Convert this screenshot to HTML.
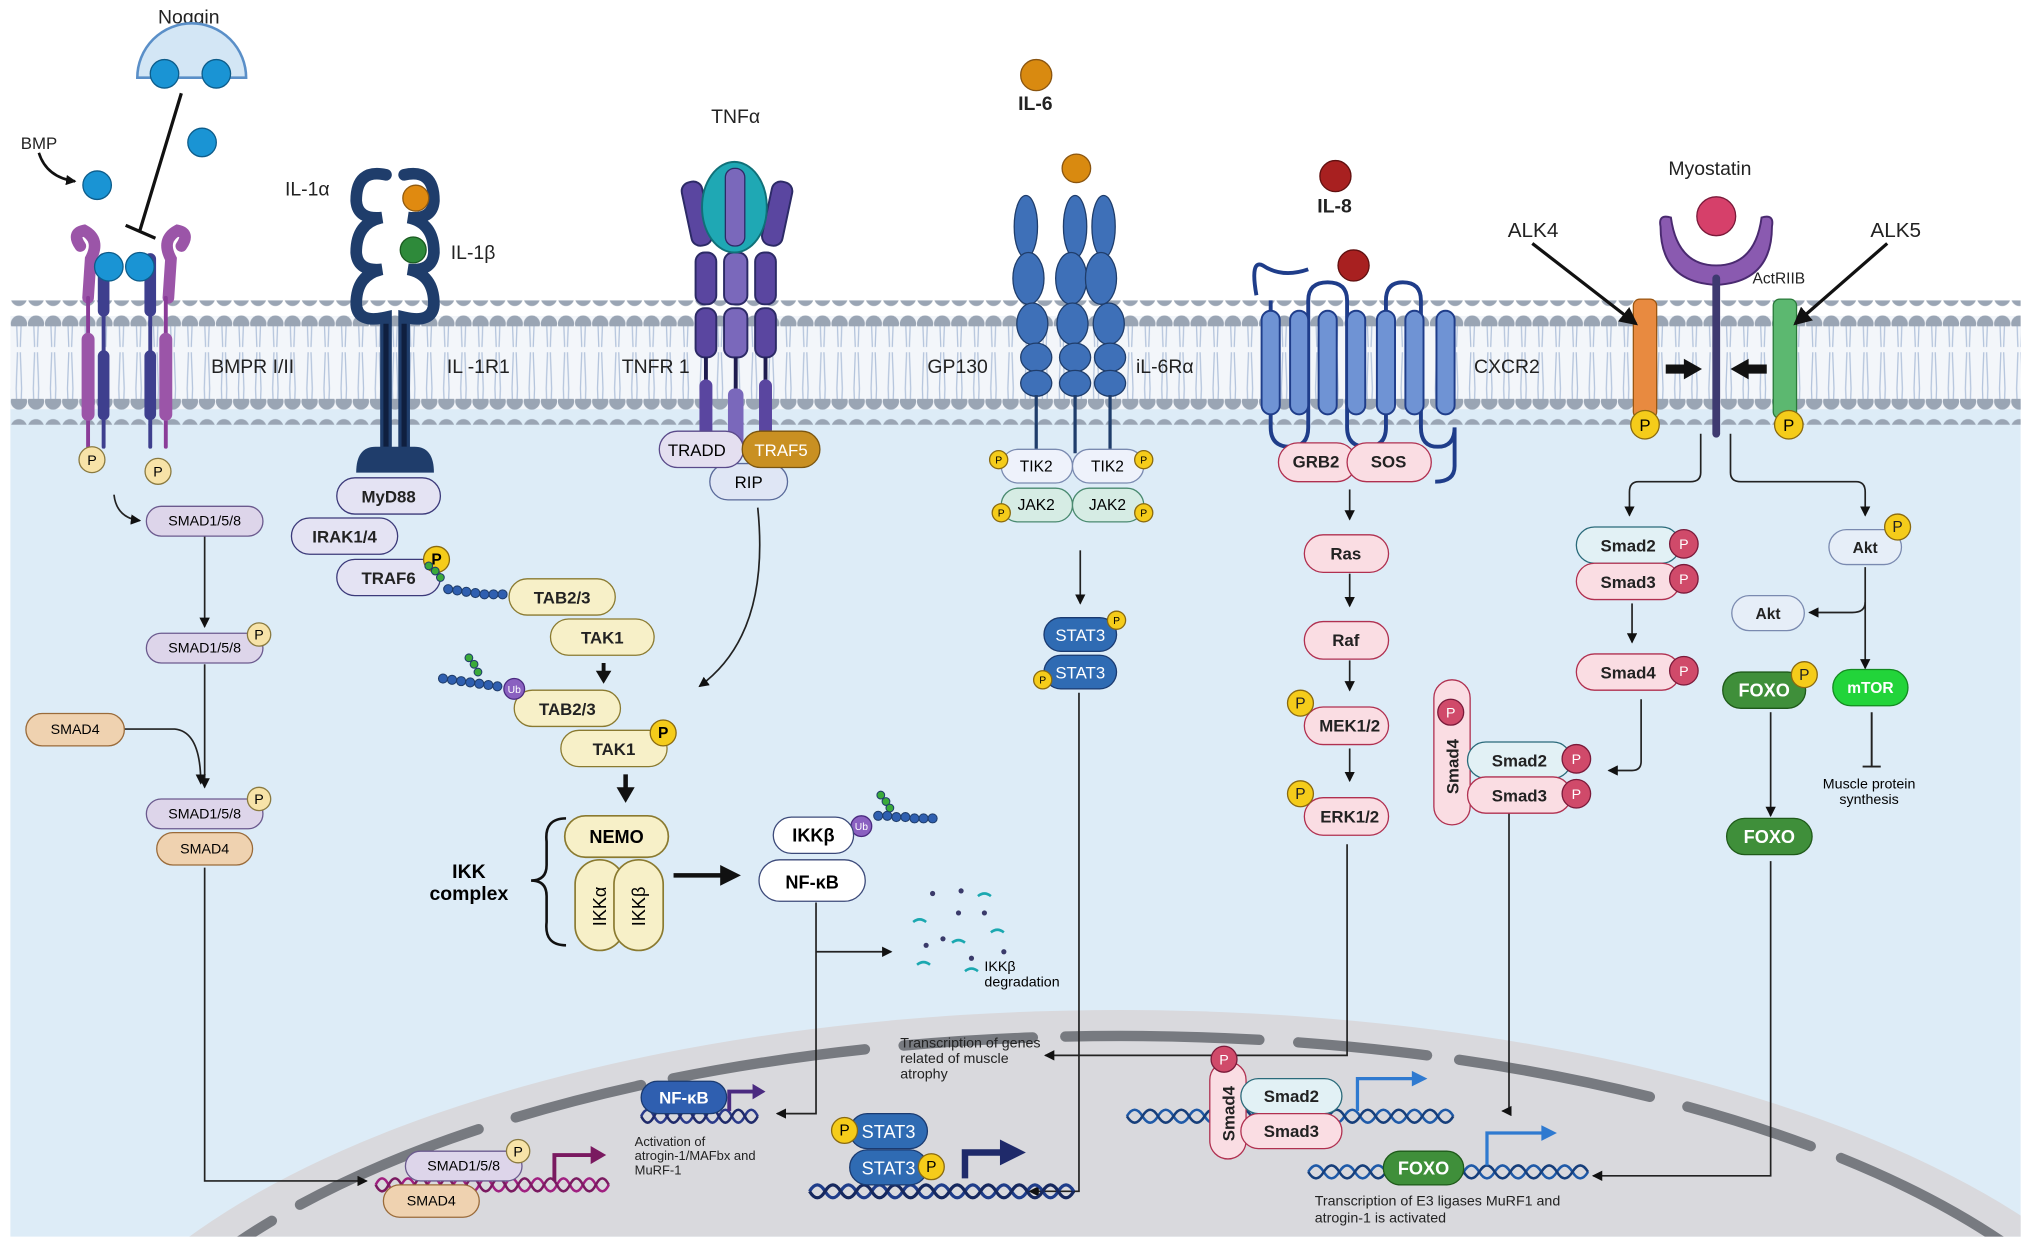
<!DOCTYPE html>
<html><head><meta charset="utf-8"><style>
html,body{margin:0;padding:0;background:#fff;width:2031px;height:1247px;overflow:hidden;}
svg{display:block;}
text{font-family:"Liberation Sans",sans-serif;}
</style></head><body>
<svg width="2031" height="1247" viewBox="0 0 1568 963" preserveAspectRatio="none" xmlns="http://www.w3.org/2000/svg">
<defs>
<pattern id="heads" x="8" y="0" width="13.2" height="20" patternUnits="userSpaceOnUse"><circle cx="6.6" cy="10" r="6.3" fill="#9aa5b4"/></pattern>
<pattern id="tails" x="8" y="0" width="13.2" height="60" patternUnits="userSpaceOnUse"><path d="M4.5 0 L5.5 28 M8.7 0 L7.7 28 M4.5 60 L5.5 32 M8.7 60 L7.7 32" stroke="#b4c4dc" stroke-width="1"/></pattern>
<clipPath id="cell"><rect x="8" y="300" width="1552" height="655"/></clipPath>
<marker id="ar" markerWidth="8" markerHeight="8" refX="7" refY="4" orient="auto" markerUnits="userSpaceOnUse"><path d="M0 0 L8 4 L0 8 z" fill="#111"/></marker>
<marker id="arb" markerWidth="14" markerHeight="14" refX="12" refY="7" orient="auto" markerUnits="userSpaceOnUse"><path d="M0 0 L14 7 L0 14 z" fill="#111"/></marker>
</defs>

<rect x="8" y="300" width="1552" height="655" fill="#ddecf7"/>
<g clip-path="url(#cell)">
<ellipse cx="865" cy="1130" rx="830" ry="350" fill="#d9d9dd"/>
<ellipse cx="865" cy="1135" rx="800" ry="335" fill="none" stroke="#777a80" stroke-width="8" stroke-dasharray="150 30 100 25" stroke-linecap="round"/>
</g>
<rect x="8" y="244" width="1552" height="72" fill="#f3f6fa"/>
<rect x="8" y="244" width="1552" height="72" fill="url(#tails)"/>
<rect x="8" y="232" width="1552" height="20" fill="url(#heads)"/>
<rect x="8" y="308" width="1552" height="20" fill="url(#heads)"/>

<g font-size="15" fill="#222">
<text x="163" y="288">BMPR I/II</text>
<text x="345" y="288">IL -1R1</text>
<text x="480" y="288">TNFR 1</text>
<text x="716" y="288">GP130</text>
<text x="877" y="288">iL-6Rα</text>
<text x="1138" y="288">CXCR2</text>
<text x="122" y="18">Noggin</text>
<text x="16" y="115" font-size="13">BMP</text>
<text x="220" y="151">IL-1α</text>
<text x="348" y="200">IL-1β</text>
<text x="549" y="95">TNFα</text>
<text x="1288" y="135">Myostatin</text>
<text x="1164" y="183" font-size="16">ALK4</text>
<text x="1444" y="183" font-size="16">ALK5</text>
<text x="1353" y="219" font-size="12">ActRIIB</text>
<text x="786" y="85" font-weight="bold">IL-6</text>
<text x="1017" y="164" font-weight="bold">IL-8</text>
</g>

<path d="M106 60 A42 42 0 0 1 190 60 Z" fill="#d3e6f5" stroke="#5a8fc8" stroke-width="2"/>
<circle cx="127" cy="57" r="11" fill="#1a94d4" stroke="#0d5c8a"/>
<circle cx="167" cy="57" r="11" fill="#1a94d4" stroke="#0d5c8a"/>
<circle cx="156" cy="110" r="11" fill="#1a94d4" stroke="#0d5c8a"/>
<circle cx="75" cy="143" r="11" fill="#1a94d4" stroke="#0d5c8a"/>
<path d="M140 72 L108 178 M97 174 L120 184" stroke="#111" stroke-width="2.5"/>
<path d="M30 118 Q36 137 58 140" fill="none" stroke="#111" stroke-width="2" marker-end="url(#ar)"/>
<g fill="none" stroke-linecap="round">
<path d="M62 190 Q55 180 65 178 Q78 185 70 200 L68 230" stroke="#9b55a8" stroke-width="9"/>
<path d="M140 190 Q147 180 137 178 Q124 185 132 200 L130 230" stroke="#9b55a8" stroke-width="9"/>
<path d="M68 230 L68 345" stroke="#8a3c98" stroke-width="3"/>
<path d="M68 262 L68 320" stroke="#9b55a8" stroke-width="10"/>
<path d="M128 230 L128 345" stroke="#8a3c98" stroke-width="3"/>
<path d="M128 262 L128 320" stroke="#9b55a8" stroke-width="10"/>
<path d="M80 205 L80 345" stroke="#3e3f8e" stroke-width="3"/>
<path d="M80 200 L80 240 M80 275 L80 320" stroke="#3e3f8e" stroke-width="9"/>
<path d="M116 205 L116 345" stroke="#3e3f8e" stroke-width="3"/>
<path d="M116 200 L116 240 M116 275 L116 320" stroke="#3e3f8e" stroke-width="9"/>
</g>
<circle cx="84" cy="206" r="11" fill="#1a94d4" stroke="#0d5c8a"/>
<circle cx="108" cy="206" r="11" fill="#1a94d4" stroke="#0d5c8a"/>
<g font-size="11" text-anchor="middle">
<circle cx="71" cy="355" r="10" fill="#f7e3a8" stroke="#8a7a40"/><text x="71" y="359">P</text>
<circle cx="122" cy="364" r="10" fill="#f7e3a8" stroke="#8a7a40"/><text x="122" y="368">P</text>
</g>

<g fill="none" stroke="#1f3d6b" stroke-width="9" stroke-linecap="round">
<path d="M298 135 Q275 130 275 155 Q276 170 295 168 Q275 172 275 195 Q276 210 295 208 Q275 212 275 235 Q276 250 298 245 L298 345"/>
<path d="M312 135 Q335 130 335 155 Q334 170 315 168 Q335 172 335 195 Q334 210 315 208 Q335 212 335 235 Q334 250 312 245 L312 345"/>
</g>
<path d="M298 250 L298 345 M312 250 L312 345" stroke="#0f1f3f" stroke-width="4"/>
<path d="M275 365 Q275 345 290 345 L320 345 Q335 345 335 365 Z" fill="#1f3d6b"/>
<circle cx="321" cy="153" r="10" fill="#e08a10" stroke="#905a10"/>
<circle cx="319" cy="193" r="10" fill="#2e8a3a" stroke="#1a5a20"/>

<g stroke="#2c2a66" stroke-width="1.5">
<rect x="530" y="140" width="16" height="50" rx="7" fill="#5a46a0" transform="rotate(-12 538 165)"/>
<rect x="592" y="140" width="16" height="50" rx="7" fill="#5a46a0" transform="rotate(12 600 165)"/>
<rect x="537" y="195" width="16" height="40" rx="7" fill="#5a46a0"/>
<rect x="559" y="195" width="18" height="40" rx="7" fill="#7a68bb"/>
<rect x="583" y="195" width="16" height="40" rx="7" fill="#5a46a0"/>
<rect x="537" y="238" width="16" height="38" rx="7" fill="#5a46a0"/>
<rect x="559" y="238" width="18" height="38" rx="7" fill="#7a68bb"/>
<rect x="583" y="238" width="16" height="38" rx="7" fill="#5a46a0"/>
</g>
<ellipse cx="567" cy="160" rx="25" ry="35" fill="#1fa8b4" stroke="#107078" stroke-width="1.5"/>
<rect x="560" y="130" width="15" height="60" rx="7" fill="#7a68bb" stroke="#2c2a66"/>
<path d="M545 276 L545 345 M568 276 L568 345 M591 276 L591 345" stroke="#1e1c4f" stroke-width="3"/>
<rect x="540" y="293" width="10" height="50" rx="5" fill="#5a46a0"/><rect x="562" y="300" width="12" height="55" rx="5" fill="#7a68bb"/><rect x="586" y="293" width="10" height="50" rx="5" fill="#5a46a0"/>
<g font-size="13" text-anchor="middle">
<rect x="548" y="358" width="60" height="28" rx="14" fill="#dfe6f5" stroke="#5a6a9a"/><text x="578" y="377">RIP</text>
<rect x="509" y="333" width="65" height="28" rx="14" fill="#e4dff0" stroke="#5a4a8a"/><text x="538" y="352">TRADD</text>
<rect x="573" y="333" width="60" height="28" rx="14" fill="#c99022" stroke="#7a5510"/><text x="603" y="352" fill="#fff">TRAF5</text>
</g>

<circle cx="800" cy="58" r="12" fill="#d98a10" stroke="#8a5510"/>
<g fill="#3e70b8" stroke="#1f3d6b" stroke-width="1">
<ellipse cx="792" cy="175" rx="9" ry="24"/><ellipse cx="794" cy="215" rx="12" ry="20"/><ellipse cx="797" cy="250" rx="12" ry="16"/>
<ellipse cx="800" cy="276" rx="12" ry="11"/><ellipse cx="800" cy="296" rx="12" ry="10"/>
<ellipse cx="830" cy="175" rx="9" ry="24"/><ellipse cx="827" cy="215" rx="12" ry="20"/><ellipse cx="828" cy="250" rx="12" ry="16"/>
<ellipse cx="830" cy="276" rx="12" ry="11"/><ellipse cx="830" cy="296" rx="12" ry="10"/>
<ellipse cx="852" cy="175" rx="9" ry="24"/><ellipse cx="850" cy="215" rx="12" ry="20"/><ellipse cx="856" cy="250" rx="12" ry="16"/>
<ellipse cx="857" cy="276" rx="12" ry="11"/><ellipse cx="857" cy="296" rx="12" ry="10"/>
</g>
<circle cx="831" cy="130" r="11" fill="#d98a10" stroke="#8a5510"/>
<path d="M800 305 L800 350 M830 305 L830 350 M857 305 L857 350" stroke="#1f3d6b" stroke-width="2.5"/>
<g font-size="12" text-anchor="middle">
<rect x="773" y="347" width="55" height="26" rx="13" fill="#eef2fb" stroke="#7a8ab0"/><text x="800" y="364">TIK2</text>
<rect x="828" y="347" width="55" height="26" rx="13" fill="#eef2fb" stroke="#7a8ab0"/><text x="855" y="364">TIK2</text>
<rect x="773" y="377" width="55" height="26" rx="13" fill="#d6ece4" stroke="#4a8a70"/><text x="800" y="394">JAK2</text>
<rect x="828" y="377" width="55" height="26" rx="13" fill="#d6ece4" stroke="#4a8a70"/><text x="855" y="394">JAK2</text>
<g font-size="8"><circle cx="771" cy="355" r="7" fill="#f5cc1a" stroke="#8a6a10"/><text x="771" y="358">P</text>
<circle cx="883" cy="355" r="7" fill="#f5cc1a" stroke="#8a6a10"/><text x="883" y="358">P</text>
<circle cx="773" cy="396" r="7" fill="#f5cc1a" stroke="#8a6a10"/><text x="773" y="399">P</text>
<circle cx="883" cy="396" r="7" fill="#f5cc1a" stroke="#8a6a10"/><text x="883" y="399">P</text></g>
</g>

<circle cx="1031" cy="136" r="12" fill="#a82020" stroke="#601010"/>
<circle cx="1045" cy="205" r="12" fill="#a82020" stroke="#601010"/>
<path d="M970 228 Q965 200 975 205 Q990 215 1010 208 M981 232 L981 330 Q981 345 996 345 Q1010 345 1010 330 L1010 232 Q1010 218 1025 218 Q1040 218 1040 232 L1040 330 Q1040 345 1055 345 Q1070 345 1070 330 L1070 232 Q1070 218 1083 218 Q1097 218 1097 232 L1097 330 Q1097 345 1110 345 Q1123 345 1123 330 L1123 360 Q1123 372 1108 372" fill="none" stroke="#1f3d8a" stroke-width="3"/>
<g fill="#6f93d4" stroke="#1f3d8a" stroke-width="1.5">
<rect x="974" y="240" width="14" height="80" rx="7"/><rect x="996" y="240" width="14" height="80" rx="7"/><rect x="1018" y="240" width="14" height="80" rx="7"/><rect x="1040" y="240" width="14" height="80" rx="7"/><rect x="1063" y="240" width="14" height="80" rx="7"/><rect x="1085" y="240" width="14" height="80" rx="7"/><rect x="1109" y="240" width="14" height="80" rx="7"/>
</g>
<g font-size="13" text-anchor="middle" font-weight="bold" fill="#222">
<rect x="987" y="342" width="60" height="30" rx="15" fill="#fadde3" stroke="#b03050"/><text x="1016" y="361">GRB2</text>
<rect x="1040" y="342" width="65" height="30" rx="15" fill="#fadde3" stroke="#b03050"/><text x="1072" y="361">SOS</text>
</g>

<path d="M1282 175 Q1280 165 1290 168 Q1295 205 1325 205 Q1355 205 1360 168 Q1370 165 1368 175 Q1368 218 1325 220 Q1282 218 1282 175 Z" fill="#8a5ab0" stroke="#4a2a70" stroke-width="1.5"/>
<circle cx="1325" cy="167" r="15" fill="#d6406a" stroke="#7a1a3a"/>
<path d="M1325 215 L1325 335" stroke="#3e3a70" stroke-width="6" stroke-linecap="round"/>
<rect x="1261" y="231" width="18" height="92" rx="5" fill="#e88a40" stroke="#9a5510"/>
<rect x="1369" y="231" width="18" height="92" rx="5" fill="#5cb870" stroke="#2a7a3a"/>
<path d="M1183 188 L1263 250" stroke="#111" stroke-width="2.5" marker-end="url(#arb)"/>
<path d="M1457 188 L1386 250" stroke="#111" stroke-width="2.5" marker-end="url(#arb)"/>
<path d="M1286 285 L1302 285" stroke="#111" stroke-width="7"/><path d="M1300 277 L1314 285 L1300 293 Z" fill="#111"/>
<path d="M1364 285 L1348 285" stroke="#111" stroke-width="7"/><path d="M1350 277 L1336 285 L1350 293 Z" fill="#111"/>
<g font-size="13" text-anchor="middle">
<circle cx="1270" cy="328" r="11" fill="#f5cc1a" stroke="#8a6a10"/><text x="1270" y="333">P</text>
<circle cx="1381" cy="328" r="11" fill="#f5cc1a" stroke="#8a6a10"/><text x="1381" y="333">P</text>
</g>

<g fill="none" stroke="#222" stroke-width="1.3">
<path d="M88 382 Q90 400 108 402" marker-end="url(#ar)"/>
<path d="M158 414 L158 484" marker-end="url(#ar)"/>
<path d="M158 513 L158 608" marker-end="url(#ar)"/>
<path d="M96 563 L135 563 Q155 565 155 605" marker-end="url(#ar)"/>
<path d="M158 670 L158 912 L283 912" marker-end="url(#ar)"/>
</g>
<g font-size="11" text-anchor="middle">
<rect x="113" y="391" width="90" height="23" rx="11.5" fill="#ddd5ea" stroke="#6b5a8e"/><text x="158" y="406">SMAD1/5/8</text>
<rect x="113" y="489" width="90" height="23" rx="11.5" fill="#ddd5ea" stroke="#6b5a8e"/><text x="158" y="504">SMAD1/5/8</text>
<circle cx="200" cy="490" r="9" fill="#f7e3a8" stroke="#8a7a40"/><text x="200" y="494">P</text>
<rect x="20" y="551" width="76" height="25" rx="12.5" fill="#efd2b0" stroke="#9a6b3a"/><text x="58" y="567">SMAD4</text>
<rect x="113" y="617" width="90" height="23" rx="11.5" fill="#ddd5ea" stroke="#6b5a8e"/><text x="158" y="632">SMAD1/5/8</text>
<circle cx="200" cy="617" r="9" fill="#f7e3a8" stroke="#8a7a40"/><text x="200" y="621">P</text>
<rect x="121" y="643" width="74" height="25" rx="12.5" fill="#efd2b0" stroke="#9a6b3a"/><text x="158" y="659">SMAD4</text>
</g>
<path d="M290 915 q5 -10 10 0 t10 0 t10 0 t10 0 t10 0 t10 0 t10 0 t10 0 t10 0 t10 0 t10 0 t10 0 t10 0 t10 0 t10 0 t10 0 t10 0 t10 0" fill="none" stroke="#a02080" stroke-width="2"/>
<path d="M290 915 q5 10 10 0 t10 0 t10 0 t10 0 t10 0 t10 0 t10 0 t10 0 t10 0 t10 0 t10 0 t10 0 t10 0 t10 0 t10 0 t10 0 t10 0 t10 0" fill="none" stroke="#7a1a60" stroke-width="2"/>
<path d="M428 912 L428 892 L458 892" fill="none" stroke="#7a1a60" stroke-width="3"/><path d="M456 885 L468 892 L456 899 Z" fill="#7a1a60"/>
<g font-size="11" text-anchor="middle">
<rect x="313" y="889" width="90" height="23" rx="11.5" fill="#ddd5ea" stroke="#6b5a8e"/><text x="358" y="904">SMAD1/5/8</text>
<circle cx="400" cy="889" r="9" fill="#f7e3a8" stroke="#8a7a40"/><text x="400" y="893">P</text>
<rect x="296" y="915" width="74" height="25" rx="12.5" fill="#efd2b0" stroke="#9a6b3a"/><text x="333" y="931">SMAD4</text>
</g>

<g font-size="13" text-anchor="middle" font-weight="bold" fill="#222">
<rect x="260" y="369" width="80" height="28" rx="14" fill="#e4e3f3" stroke="#3c3a7a"/><text x="300" y="388">MyD88</text>
<rect x="225" y="400" width="82" height="28" rx="14" fill="#e4e3f3" stroke="#3c3a7a"/><text x="266" y="419">IRAK1/4</text>
<rect x="260" y="432" width="80" height="28" rx="14" fill="#e4e3f3" stroke="#3c3a7a"/><text x="300" y="451">TRAF6</text>
<rect x="393" y="447" width="82" height="28" rx="14" fill="#f7f0c8" stroke="#8a7a30"/><text x="434" y="466">TAB2/3</text>
<rect x="425" y="478" width="80" height="28" rx="14" fill="#f7f0c8" stroke="#8a7a30"/><text x="465" y="497">TAK1</text>
<rect x="397" y="533" width="82" height="28" rx="14" fill="#f7f0c8" stroke="#8a7a30"/><text x="438" y="552">TAB2/3</text>
<rect x="433" y="564" width="82" height="28" rx="14" fill="#f7f0c8" stroke="#8a7a30"/><text x="474" y="583">TAK1</text>
</g>
<g font-size="12" text-anchor="middle" font-weight="bold">
<circle cx="337" cy="432" r="10" fill="#f5cc1a" stroke="#8a6a10"/><text x="337" y="436">P</text>
<circle cx="512" cy="566" r="10" fill="#f5cc1a" stroke="#8a6a10"/><text x="512" y="570">P</text>
</g>
<g stroke="#1f3d6b" stroke-width="0.8">
<circle cx="346" cy="455" r="3.5" fill="#2f5fb0"/><circle cx="353" cy="456" r="3.5" fill="#2f5fb0"/><circle cx="360" cy="457" r="3.5" fill="#2f5fb0"/><circle cx="367" cy="458" r="3.5" fill="#2f5fb0"/><circle cx="374" cy="459" r="3.5" fill="#2f5fb0"/><circle cx="381" cy="459" r="3.5" fill="#2f5fb0"/><circle cx="388" cy="459" r="3.5" fill="#2f5fb0"/>
<circle cx="331" cy="437" r="3" fill="#3aaa3a"/><circle cx="336" cy="441" r="3" fill="#3aaa3a"/><circle cx="340" cy="446" r="3" fill="#3aaa3a"/>
<circle cx="342" cy="524" r="3.5" fill="#2f5fb0"/><circle cx="349" cy="525" r="3.5" fill="#2f5fb0"/><circle cx="356" cy="526" r="3.5" fill="#2f5fb0"/><circle cx="363" cy="527" r="3.5" fill="#2f5fb0"/><circle cx="370" cy="528" r="3.5" fill="#2f5fb0"/><circle cx="377" cy="529" r="3.5" fill="#2f5fb0"/><circle cx="384" cy="530" r="3.5" fill="#2f5fb0"/>
<circle cx="362" cy="508" r="3" fill="#3aaa3a"/><circle cx="366" cy="513" r="3" fill="#3aaa3a"/><circle cx="369" cy="519" r="3" fill="#3aaa3a"/>
<circle cx="678" cy="630" r="3.5" fill="#2f5fb0"/><circle cx="685" cy="630" r="3.5" fill="#2f5fb0"/><circle cx="692" cy="631" r="3.5" fill="#2f5fb0"/><circle cx="699" cy="631" r="3.5" fill="#2f5fb0"/><circle cx="706" cy="632" r="3.5" fill="#2f5fb0"/><circle cx="713" cy="632" r="3.5" fill="#2f5fb0"/><circle cx="720" cy="632" r="3.5" fill="#2f5fb0"/>
<circle cx="680" cy="614" r="3" fill="#3aaa3a"/><circle cx="684" cy="619" r="3" fill="#3aaa3a"/><circle cx="687" cy="624" r="3" fill="#3aaa3a"/>
</g>
<circle cx="397" cy="532" r="8" fill="#8a60c0" stroke="#4a2a80"/><text x="397" y="535" font-size="8" fill="#fff" text-anchor="middle">Ub</text>
<circle cx="665" cy="638" r="8" fill="#8a60c0" stroke="#4a2a80"/><text x="665" y="641" font-size="8" fill="#fff" text-anchor="middle">Ub</text>
<path d="M466 512 L466 520" stroke="#111" stroke-width="3"/><path d="M460 518 L466 528 L472 518 Z" fill="#111"/>
<path d="M483 598 L483 610" stroke="#111" stroke-width="3.5"/><path d="M476 608 L483 620 L490 608 Z" fill="#111"/>
<path d="M585 392 Q595 490 540 530" fill="none" stroke="#222" stroke-width="1.3" marker-end="url(#ar)"/>
<path d="M437 632 Q420 632 422 650 L422 668 Q422 680 410 680 Q422 680 422 692 L422 712 Q420 730 437 730" fill="none" stroke="#111" stroke-width="2"/>
<text x="362" y="678" font-size="15" font-weight="bold" text-anchor="middle">IKK</text>
<text x="362" y="695" font-size="15" font-weight="bold" text-anchor="middle">complex</text>
<g fill="#f7f0c8" stroke="#8a7a30" stroke-width="1.3">
<rect x="444" y="664" width="38" height="70" rx="19"/><rect x="474" y="664" width="38" height="70" rx="19"/>
<rect x="436" y="630" width="80" height="32" rx="16"/>
</g>
<text x="476" y="651" font-size="14" font-weight="bold" text-anchor="middle">NEMO</text>
<text transform="translate(468 700) rotate(-90)" font-size="14" text-anchor="middle">IKKα</text>
<text transform="translate(498 700) rotate(-90)" font-size="14" text-anchor="middle">IKKβ</text>
<path d="M520 676 L560 676" stroke="#111" stroke-width="3.5"/><path d="M556 668 L572 676 L556 684 Z" fill="#111"/>
<g font-size="14" text-anchor="middle" font-weight="bold">
<rect x="597" y="631" width="62" height="28" rx="14" fill="#fff" stroke="#3c4a7a"/><text x="628" y="650">IKKβ</text>
<rect x="586" y="664" width="82" height="32" rx="16" fill="#fff" stroke="#3c4a7a"/><text x="627" y="686">NF-κB</text>
</g>
<path d="M630 697 L630 860 L600 860" fill="none" stroke="#222" stroke-width="1.3" marker-end="url(#ar)"/>
<path d="M630 735 L688 735" fill="none" stroke="#222" stroke-width="1.3" marker-end="url(#ar)"/>
<g fill="none" stroke="#1aa8b0" stroke-width="2">
<path d="M705 712 q5 -4 10 0"/><path d="M755 692 q5 -4 10 0"/><path d="M765 720 q5 -4 10 0"/><path d="M708 745 q5 -4 10 0"/><path d="M735 728 q5 -4 10 0"/><path d="M745 750 q5 -4 10 0"/>
</g>
<g fill="#3a3a6a"><circle cx="720" cy="690" r="2"/><circle cx="740" cy="705" r="2"/><circle cx="728" cy="725" r="2"/><circle cx="760" cy="705" r="2"/><circle cx="750" cy="740" r="2"/><circle cx="775" cy="735" r="2"/><circle cx="742" cy="688" r="2"/><circle cx="715" cy="730" r="2"/></g>
<text x="760" y="750" font-size="11">IKKβ</text><text x="760" y="762" font-size="11">degradation</text>
<path d="M495 862 q5 -10 10 0 t10 0 t10 0 t10 0 t10 0 t10 0 t10 0 t10 0 t10 0" fill="none" stroke="#2a3a8a" stroke-width="2"/>
<path d="M495 862 q5 10 10 0 t10 0 t10 0 t10 0 t10 0 t10 0 t10 0 t10 0 t10 0" fill="none" stroke="#1f2a6a" stroke-width="2"/>
<rect x="495" y="835" width="66" height="25" rx="12.5" fill="#2f5fb0" stroke="#1a3a70"/><text x="528" y="852" font-size="13" fill="#fff" font-weight="bold" text-anchor="middle">NF-κB</text>
<path d="M563 858 L563 843 L583 843" fill="none" stroke="#4a2a80" stroke-width="3"/><path d="M581 837 L591 843 L581 849 Z" fill="#4a2a80"/>
<g font-size="10" fill="#222"><text x="490" y="885">Activation of</text><text x="490" y="896">atrogin-1/MAFbx and</text><text x="490" y="907">MuRF-1</text></g>

<path d="M834 425 L834 466" fill="none" stroke="#222" stroke-width="1.3" marker-end="url(#ar)"/>
<path d="M833 535 L833 920 L795 920" fill="none" stroke="#222" stroke-width="1.3" marker-end="url(#ar)"/>
<g font-size="13" text-anchor="middle" fill="#fff">
<rect x="806" y="477" width="56" height="26" rx="13" fill="#2f6bb3" stroke="#1a3a70"/><text x="834" y="495">STAT3</text>
<rect x="806" y="506" width="56" height="26" rx="13" fill="#2f6bb3" stroke="#1a3a70"/><text x="834" y="524">STAT3</text>
</g>
<g font-size="8" text-anchor="middle"><circle cx="862" cy="479" r="7" fill="#f5cc1a" stroke="#8a6a10"/><text x="862" y="482">P</text>
<circle cx="805" cy="525" r="7" fill="#f5cc1a" stroke="#8a6a10"/><text x="805" y="528">P</text></g>
<path d="M625 920 q6 -10 12 0 t12 0 t12 0 t12 0 t12 0 t12 0 t12 0 t12 0 t12 0 t12 0 t12 0 t12 0 t12 0 t12 0 t12 0 t12 0 t12 0" fill="none" stroke="#1f3d8a" stroke-width="2.5"/>
<path d="M625 920 q6 10 12 0 t12 0 t12 0 t12 0 t12 0 t12 0 t12 0 t12 0 t12 0 t12 0 t12 0 t12 0 t12 0 t12 0 t12 0 t12 0 t12 0" fill="none" stroke="#16285e" stroke-width="2.5"/>
<path d="M745 910 L745 890 L775 890" fill="none" stroke="#1f2a6a" stroke-width="5"/><path d="M772 880 L792 890 L772 900 Z" fill="#1f2a6a"/>
<g font-size="14" text-anchor="middle" fill="#fff">
<rect x="656" y="860" width="60" height="27" rx="13.5" fill="#2f6bb3" stroke="#1a3a70"/><text x="686" y="879">STAT3</text>
<rect x="656" y="888" width="60" height="27" rx="13.5" fill="#2f6bb3" stroke="#1a3a70"/><text x="686" y="907">STAT3</text>
</g>
<g font-size="12" text-anchor="middle"><circle cx="652" cy="873" r="10" fill="#f5cc1a" stroke="#8a6a10"/><text x="652" y="877">P</text>
<circle cx="719" cy="901" r="10" fill="#f5cc1a" stroke="#8a6a10"/><text x="719" y="905">P</text></g>

<g fill="none" stroke="#222" stroke-width="1.3">
<path d="M1042 378 L1042 401" marker-end="url(#ar)"/>
<path d="M1042 443 L1042 468" marker-end="url(#ar)"/>
<path d="M1042 510 L1042 533" marker-end="url(#ar)"/>
<path d="M1042 578 L1042 603" marker-end="url(#ar)"/>
<path d="M1040 652 L1040 815 L807 815" marker-end="url(#ar)"/>
</g>
<g font-size="13" text-anchor="middle" font-weight="bold" fill="#222">
<rect x="1007" y="413" width="65" height="29" rx="14.5" fill="#fadde3" stroke="#b03050"/><text x="1039" y="432">Ras</text>
<rect x="1007" y="480" width="65" height="29" rx="14.5" fill="#fadde3" stroke="#b03050"/><text x="1039" y="499">Raf</text>
<rect x="1007" y="546" width="65" height="29" rx="14.5" fill="#fadde3" stroke="#b03050"/><text x="1042" y="565">MEK1/2</text>
<rect x="1007" y="616" width="65" height="29" rx="14.5" fill="#fadde3" stroke="#b03050"/><text x="1042" y="635">ERK1/2</text>
<circle cx="1004" cy="543" r="10" fill="#f5cc1a" stroke="#8a6a10"/><text x="1004" y="547" font-size="12" font-weight="normal">P</text>
<circle cx="1004" cy="613" r="10" fill="#f5cc1a" stroke="#8a6a10"/><text x="1004" y="617" font-size="12" font-weight="normal">P</text>
</g>
<g font-size="11" fill="#222"><text x="695" y="809">Transcription of genes</text><text x="695" y="821">related of muscle</text><text x="695" y="833">atrophy</text></g>

<g fill="none" stroke="#222" stroke-width="1.3">
<path d="M1313 335 L1313 365 Q1313 372 1305 372 L1265 372 Q1258 372 1258 380 L1258 398" marker-end="url(#ar)"/>
<path d="M1336 335 L1336 365 Q1336 372 1344 372 L1433 372 Q1440 372 1440 380 L1440 398" marker-end="url(#ar)"/>
<path d="M1260 466 L1260 496" marker-end="url(#ar)"/>
<path d="M1267 540 L1267 588 Q1267 595 1260 595 L1242 595" marker-end="url(#ar)"/>
<path d="M1165 628 L1165 858 L1160 858" marker-end="url(#ar)"/>
<path d="M1440 438 L1440 516" marker-end="url(#ar)"/>
<path d="M1440 465 Q1440 473 1430 473 L1397 473" marker-end="url(#ar)"/>
<path d="M1367 550 L1367 630" marker-end="url(#ar)"/>
<path d="M1367 665 L1367 908 L1230 908" marker-end="url(#ar)"/>
<path d="M1445 550 L1445 592 M1438 592 L1452 592" stroke-width="1.5"/>
</g>
<g font-size="13" text-anchor="middle" font-weight="bold" fill="#222">
<rect x="1217" y="407" width="80" height="28" rx="14" fill="#e2f1f5" stroke="#2a6a7a"/><text x="1257" y="426">Smad2</text>
<rect x="1217" y="435" width="80" height="28" rx="14" fill="#fadde3" stroke="#b03050"/><text x="1257" y="454">Smad3</text>
<rect x="1217" y="505" width="80" height="28" rx="14" fill="#fadde3" stroke="#b03050"/><text x="1257" y="524">Smad4</text>
<rect x="1107" y="525" width="28" height="112" rx="14" fill="#fadde3" stroke="#b03050"/>
<text transform="translate(1126 592) rotate(-90)">Smad4</text>
<rect x="1133" y="573" width="80" height="28" rx="14" fill="#e2f1f5" stroke="#2a6a7a"/><text x="1173" y="592">Smad2</text>
<rect x="1133" y="600" width="80" height="28" rx="14" fill="#fadde3" stroke="#b03050"/><text x="1173" y="619">Smad3</text>
</g>
<g font-size="11" text-anchor="middle" fill="#fff">
<circle cx="1300" cy="420" r="11" fill="#d04a6a" stroke="#7a1a3a"/><text x="1300" y="424">P</text>
<circle cx="1300" cy="447" r="11" fill="#d04a6a" stroke="#7a1a3a"/><text x="1300" y="451">P</text>
<circle cx="1300" cy="518" r="11" fill="#d04a6a" stroke="#7a1a3a"/><text x="1300" y="522">P</text>
<circle cx="1120" cy="550" r="10" fill="#d04a6a" stroke="#7a1a3a"/><text x="1120" y="554">P</text>
<circle cx="1217" cy="586" r="11" fill="#d04a6a" stroke="#7a1a3a"/><text x="1217" y="590">P</text>
<circle cx="1217" cy="613" r="11" fill="#d04a6a" stroke="#7a1a3a"/><text x="1217" y="617">P</text>
</g>
<g font-size="12" text-anchor="middle" font-weight="bold" fill="#222">
<rect x="1412" y="409" width="56" height="27" rx="13.5" fill="#e6eef8" stroke="#7a8ab0"/><text x="1440" y="427">Akt</text>
<rect x="1337" y="460" width="56" height="27" rx="13.5" fill="#e6eef8" stroke="#7a8ab0"/><text x="1365" y="478">Akt</text>
<circle cx="1465" cy="407" r="10" fill="#f5cc1a" stroke="#8a6a10"/><text x="1465" y="411" font-weight="normal">P</text>
<rect x="1415" y="517" width="58" height="28" rx="14" fill="#22d43a" stroke="#138a20"/><text x="1444" y="535" fill="#fff">mTOR</text>
<rect x="1330" y="519" width="64" height="28" rx="14" fill="#3f8f3a" stroke="#1f5a1a"/><text x="1362" y="538" fill="#fff" font-size="14">FOXO</text>
<circle cx="1393" cy="521" r="10" fill="#f5cc1a" stroke="#8a6a10"/><text x="1393" y="525" font-weight="normal">P</text>
<rect x="1333" y="632" width="66" height="28" rx="14" fill="#3f8f3a" stroke="#1f5a1a"/><text x="1366" y="651" fill="#fff" font-size="14">FOXO</text>
</g>
<g font-size="11" text-anchor="middle"><text x="1443" y="609">Muscle protein</text><text x="1443" y="621">synthesis</text></g>
<path d="M870 862 q6 -10 12 0 t12 0 t12 0 t12 0 t12 0 t12 0 t12 0 t12 0 t12 0 t12 0 t12 0 t12 0 t12 0 t12 0 t12 0 t12 0 t12 0 t12 0 t12 0 t12 0 t12 0" fill="none" stroke="#1f5aa8" stroke-width="2"/>
<path d="M870 862 q6 10 12 0 t12 0 t12 0 t12 0 t12 0 t12 0 t12 0 t12 0 t12 0 t12 0 t12 0 t12 0 t12 0 t12 0 t12 0 t12 0 t12 0 t12 0 t12 0 t12 0 t12 0" fill="none" stroke="#163e7a" stroke-width="2"/>
<path d="M1048 858 L1048 833 L1092 833" fill="none" stroke="#2f7ad0" stroke-width="2.5"/><path d="M1090 827 L1102 833 L1090 839 Z" fill="#2f7ad0"/>
<g font-size="13" text-anchor="middle" font-weight="bold" fill="#222">
<rect x="934" y="820" width="28" height="75" rx="14" fill="#fadde3" stroke="#b03050"/>
<text transform="translate(953 860) rotate(-90)">Smad4</text>
<rect x="958" y="833" width="78" height="27" rx="13.5" fill="#e2f1f5" stroke="#2a6a7a"/><text x="997" y="851">Smad2</text>
<rect x="958" y="860" width="78" height="27" rx="13.5" fill="#fadde3" stroke="#b03050"/><text x="997" y="878">Smad3</text>
</g>
<circle cx="945" cy="818" r="10" fill="#d04a6a" stroke="#7a1a3a"/><text x="945" y="822" font-size="11" fill="#fff" text-anchor="middle">P</text>
<path d="M1010 905 q6 -10 12 0 t12 0 t12 0 t12 0 t12 0 t12 0 t12 0 t12 0 t12 0 t12 0 t12 0 t12 0 t12 0 t12 0 t12 0 t12 0 t12 0 t12 0" fill="none" stroke="#1f5aa8" stroke-width="2"/>
<path d="M1010 905 q6 10 12 0 t12 0 t12 0 t12 0 t12 0 t12 0 t12 0 t12 0 t12 0 t12 0 t12 0 t12 0 t12 0 t12 0 t12 0 t12 0 t12 0 t12 0" fill="none" stroke="#163e7a" stroke-width="2"/>
<path d="M1148 900 L1148 875 L1192 875" fill="none" stroke="#2f7ad0" stroke-width="2.5"/><path d="M1190 869 L1202 875 L1190 881 Z" fill="#2f7ad0"/>
<rect x="1068" y="889" width="62" height="26" rx="13" fill="#3f8f3a" stroke="#1f5a1a"/><text x="1099" y="907" font-size="14" font-weight="bold" fill="#fff" text-anchor="middle">FOXO</text>
<g font-size="11" fill="#222"><text x="1015" y="931">Transcription of E3 ligases MuRF1 and</text><text x="1015" y="944">atrogin-1 is activated</text></g>
</svg>
</body></html>
